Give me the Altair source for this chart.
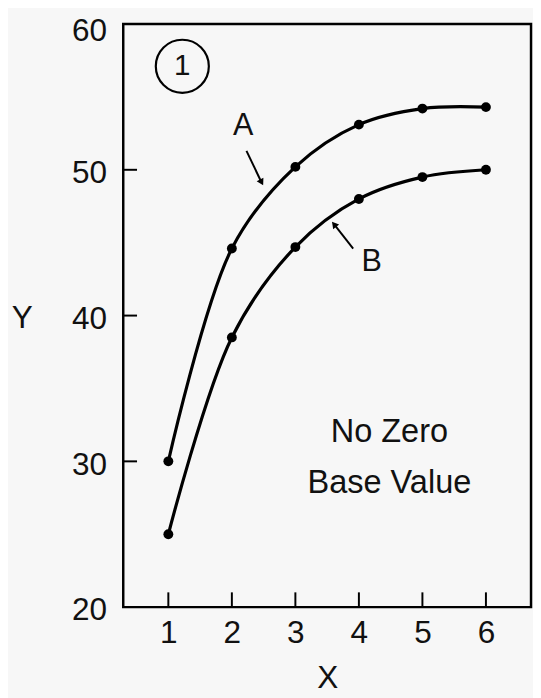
import altair as alt
import pandas as pd

x_vals = [1, 2, 3, 4, 5, 6]
a_vals = [30.0, 44.6, 50.2, 53.1, 54.2, 54.3]
b_vals = [25.0, 38.5, 44.7, 48.0, 49.5, 50.0]
x_ticks = [1, 2, 3, 4, 5, 6]
y_ticks = [20, 30, 40, 50, 60]
y_inner_ticks = [30, 40, 50]

FONT = "Liberation Sans"
W, H = 414, 592

df = pd.DataFrame({
    "x": x_vals * 2,
    "y": a_vals + b_vals,
    "s": ["A"] * 6 + ["B"] * 6,
})

xs = alt.Scale(domain=[0.29, 6.71], nice=False, zero=False)
ys = alt.Scale(domain=[20, 60], nice=False, zero=False)

X = alt.X("x:Q", scale=xs,
          axis=alt.Axis(values=x_ticks, format="d", title="X", ticks=False, domain=False, grid=False,
                        labelFontSize=32, labelFont=FONT, labelColor="#111", labelPadding=11,
                        titleFontSize=32, titleFont=FONT, titleFontWeight="normal", titleColor="#111",
                        titleY=72, titleBaseline="middle"))
Y = alt.Y("y:Q", scale=ys,
          axis=alt.Axis(values=y_ticks, format="d", title="Y", ticks=False, domain=False, grid=False,
                        labelFontSize=32, labelFont=FONT, labelColor="#111", labelPadding=17,
                        labelOffset={"condition": {"test": "datum.value == 60", "value": 7}, "value": 3},
                        titleFontSize=32, titleFont=FONT, titleFontWeight="normal", titleColor="#111",
                        titleAngle=0, titleX=-103, titleY=298, titleAlign="center",
                        titleBaseline="middle"))

lines = alt.Chart(df).mark_line(interpolate="catmull-rom", color="black", strokeWidth=3.2).encode(
    x=X, y=Y, detail="s:N")
pts = alt.Chart(df).mark_circle(color="black", opacity=1, size=100).encode(
    x=alt.X("x:Q", scale=xs), y=alt.Y("y:Q", scale=ys))

ytk = alt.Chart(pd.DataFrame({"v": y_inner_ticks})).mark_rule(color="black", strokeWidth=2).encode(
    y=alt.Y("v:Q", scale=ys), x=alt.value(0), x2=alt.value(14))
xtk = alt.Chart(pd.DataFrame({"v": x_ticks})).mark_rule(color="black", strokeWidth=2).encode(
    x=alt.X("v:Q", scale=xs), y=alt.value(H - 15), y2=alt.value(H))

# annotations
circ_df = pd.DataFrame({"x": [1.22], "y": [57.1], "t": ["1"]})
circ = alt.Chart(circ_df).mark_point(shape="circle", size=2900, color="black", strokeWidth=2.2,
                                     filled=False, opacity=1).encode(
    x=alt.X("x:Q", scale=xs), y=alt.Y("y:Q", scale=ys))
circ_t = alt.Chart(circ_df).mark_text(fontSize=30, font=FONT, color="#111", baseline="middle",
                                      align="center").encode(
    x=alt.X("x:Q", scale=xs), y=alt.Y("y:Q", scale=ys), text="t:N")

lab_df = pd.DataFrame({"x": [2.18, 4.2], "y": [52.97, 43.7], "t": ["A", "B"]})
labs = alt.Chart(lab_df).mark_text(fontSize=31, font=FONT, color="#111", baseline="middle",
                                   align="center").encode(
    x=alt.X("x:Q", scale=xs), y=alt.Y("y:Q", scale=ys), text="t:N")

arr_df = pd.DataFrame({
    "x": [2.23, 3.91], "y": [51.3, 44.6],
    "x2": [2.46, 3.62], "y2": [49.2, 46.2],
    "ang": [152, 321],
})
arr_lines = alt.Chart(arr_df).mark_rule(color="black", strokeWidth=2).encode(
    x=alt.X("x:Q", scale=xs), y=alt.Y("y:Q", scale=ys), x2="x2:Q", y2="y2:Q")
arr_heads = alt.Chart(arr_df).mark_point(shape="triangle", filled=True, color="black", opacity=1,
                                         size=60).encode(
    x=alt.X("x2:Q", scale=xs), y=alt.Y("y2:Q", scale=ys),
    angle=alt.Angle("ang:Q", scale=None))

note_df = pd.DataFrame({"x": [4.48, 4.48], "y": [32.0, 28.5], "t": ["No Zero", "Base Value"]})
notes = alt.Chart(note_df).mark_text(fontSize=33, font=FONT, color="#111", baseline="middle",
                                     align="center").encode(
    x=alt.X("x:Q", scale=xs), y=alt.Y("y:Q", scale=ys), text="t:N")

chart = alt.layer(lines, pts, ytk, xtk, circ, circ_t, labs, arr_lines, arr_heads, notes).properties(
    width=W, height=H,
    autosize=alt.AutoSizeParams(type="none"),
    padding={"left": 117, "top": 11, "right": 2, "bottom": 88},
    background="#f7f7f7",
).configure_view(stroke="black", strokeWidth=2.5)

chart.save("out.html", embed_options={"renderer": "svg", "actions": False})
